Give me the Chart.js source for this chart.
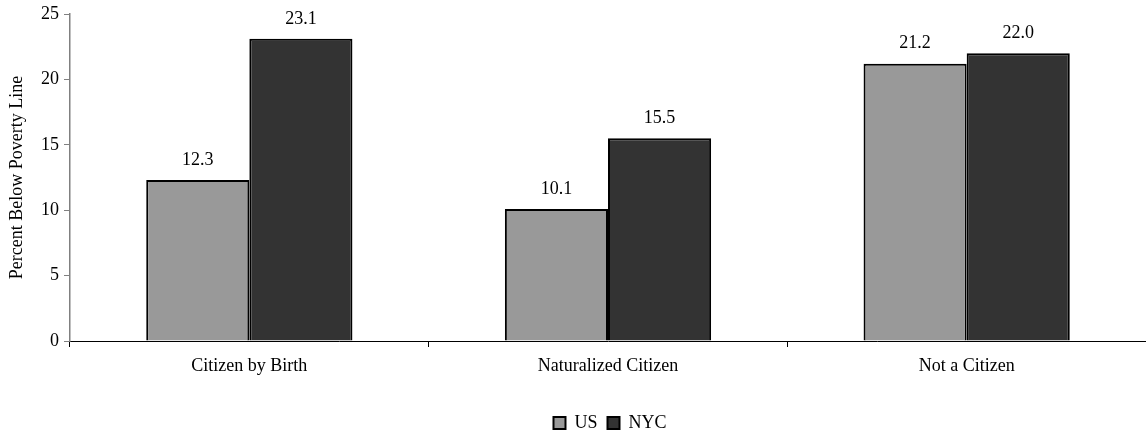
<!DOCTYPE html>
<html>
<head>
<meta charset="utf-8">
<title>Poverty by Citizenship Status</title>
<script src="https://cdn.jsdelivr.net/npm/chart.js@4.4.0/dist/chart.umd.min.js"></script>
<style>
  html, body { margin: 0; padding: 0; background: #fff; }
  #wrap { width: 1146px; height: 434px; position: relative; }
</style>
</head>
<body>
<div id="wrap"><canvas id="chart"></canvas></div>
<script>
const categories = ['Citizen by Birth', 'Naturalized Citizen', 'Not a Citizen'];
const usValues = [12.3, 10.1, 21.2];
const nycValues = [23.1, 15.5, 22.0];
const yTicks = [0, 5, 10, 15, 20, 25];

const FONT = '"Liberation Serif", "Times New Roman", serif';

// value labels above each bar
const barLabels = {
  id: 'barLabels',
  afterDatasetsDraw(chart) {
    const ctx = chart.ctx;
    ctx.save();
    ctx.font = '18px ' + FONT;
    ctx.fillStyle = '#000';
    ctx.textAlign = 'center';
    ctx.textBaseline = 'bottom';
    chart.data.datasets.forEach((ds, i) => {
      chart.getDatasetMeta(i).data.forEach((bar, j) => {
        ctx.fillText(ds.data[j].toFixed(1), bar.x, bar.y - 11);
      });
    });
    ctx.restore();
  }
};

// legend sits a little right of the page centre
const legendShift = {
  id: 'legendShift',
  afterLayout(chart) {
    chart.legend.left += 37;
    chart.legend.right += 37;
  }
};

new Chart(document.getElementById('chart'), {
  type: 'bar',
  data: {
    labels: categories,
    datasets: [
      { label: 'US', data: usValues, backgroundColor: '#999999', borderColor: '#000', borderWidth: 2 },
      { label: 'NYC', data: nycValues, backgroundColor: '#333333', borderColor: '#000', borderWidth: 2 }
    ]
  },
  options: {
    responsive: true,
    maintainAspectRatio: false,
    animation: false,
    devicePixelRatio: 1,
    layout: { padding: { top: 9, right: 0, left: 0, bottom: 0 } },
    datasets: { bar: { barPercentage: 1, categoryPercentage: 0.575 } },
    plugins: {
      tooltip: { enabled: false },
      legend: {
        position: 'bottom',
        maxHeight: 30,
        labels: {
          font: { family: FONT, size: 18 },
          color: '#000',
          boxWidth: 12,
          boxHeight: 12,
          padding: 10,
          generateLabels(chart) {
            return chart.data.datasets.map((ds, i) => ({
              text: ds.label,
              fillStyle: ds.backgroundColor,
              strokeStyle: '#000',
              lineWidth: 2,
              datasetIndex: i,
              fontColor: '#000'
            }));
          }
        }
      }
    },
    scales: {
      x: {
        grid: { drawOnChartArea: false, drawTicks: true, tickLength: 6, color: '#000', offset: true },
        border: { color: '#000', width: 1 },
        ticks: { font: { family: FONT, size: 18 }, color: '#000', padding: 8, maxRotation: 0 },
        afterFit(scale) { scale.height = 63; }
      },
      y: {
        min: 0,
        max: 25,
        afterBuildTicks(scale) { scale.ticks = yTicks.map(v => ({ value: v })); },
        grid: { drawOnChartArea: false, drawTicks: true, tickLength: 6, color: '#808080' },
        border: { color: '#808080', width: 1.5 },
        ticks: { font: { family: FONT, size: 18, lineHeight: 1 }, color: '#000', padding: 5 },
        title: { display: true, text: 'Percent Below Poverty Line', font: { family: FONT, size: 18 }, color: '#000', padding: { top: 6, bottom: 4 } },
        afterFit(scale) { scale.width = 70; }
      }
    }
  },
  plugins: [barLabels, legendShift]
});
</script>
</body>
</html>
